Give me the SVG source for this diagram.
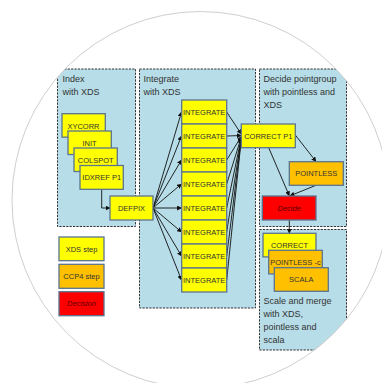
<svg xmlns="http://www.w3.org/2000/svg" width="382" height="383" viewBox="0 0 382 383">
<style>
.panel{fill:#b7dde8;stroke:#333;stroke-width:1;stroke-dasharray:2.2,1.2}
.title{font-family:"Liberation Sans",Arial,sans-serif;font-size:9px;fill:#333}
.box{stroke:#5b7490;stroke-width:1.3}
.xds{fill:#ffff00}
.ccp4{fill:#ffc000}
.dec{fill:#ff0000}
.lbl{font-family:"Liberation Sans Narrow","Liberation Sans",Arial,sans-serif;font-size:7.5px;fill:#333;text-anchor:middle;dominant-baseline:central}
.it{font-style:italic;fill:#5a0000}
.conn line,.conn path{stroke:#111;stroke-width:0.9;fill:none;marker-end:url(#ah)}
</style>
<defs>
<clipPath id="circ"><circle cx="200.5" cy="200" r="188.5"/></clipPath>
<marker id="ah" viewBox="0 0 10 10" refX="9" refY="5" markerWidth="5" markerHeight="5" orient="auto" markerUnits="userSpaceOnUse">
<path d="M0,0 L10,5 L0,10 Z" fill="#111"/>
</marker>
</defs>
<rect width="382" height="383" fill="#fff"/>
<g clip-path="url(#circ)">
<g id="panel-index">
<rect class="panel" x="57.5" y="69" width="78" height="157.5"/>
<text class="title" x="62.5" y="81.5">Index</text>
<text class="title" x="62.5" y="94.5">with XDS</text>
</g>
<g id="panel-integrate">
<rect class="panel" x="139.5" y="69" width="116" height="239"/>
<text class="title" x="143.5" y="81.5">Integrate</text>
<text class="title" x="143.5" y="94.5">with XDS</text>
</g>
<g id="panel-decide">
<rect class="panel" x="259.5" y="69" width="87" height="157.5"/>
<text class="title" x="263.5" y="81.5">Decide pointgroup</text>
<text class="title" x="263.5" y="94.5">with pointless and</text>
<text class="title" x="263.5" y="107.5">XDS</text>
</g>
<g id="panel-scale">
<rect class="panel" x="259.5" y="229.5" width="87" height="120.5"/>
<text class="title" x="263.5" y="304">Scale and merge</text>
<text class="title" x="263.5" y="317">with XDS,</text>
<text class="title" x="263.5" y="330">pointless and</text>
<text class="title" x="263.5" y="343">scala</text>
</g>

<g class="conn" id="connectors">
<path d="M101.7,189.3 V208 H110"/>
<line x1="153" y1="208" x2="181.5" y2="112"/>
<line x1="153" y1="208" x2="181.5" y2="136"/>
<line x1="153" y1="208" x2="181.5" y2="160"/>
<line x1="153" y1="208" x2="181.5" y2="184"/>
<line x1="153" y1="208" x2="181.5" y2="208"/>
<line x1="153" y1="208" x2="181.5" y2="232"/>
<line x1="153" y1="208" x2="181.5" y2="256"/>
<line x1="153" y1="208" x2="181.5" y2="280"/>
<line x1="226.7" y1="112" x2="241.3" y2="134"/>
<line x1="226.7" y1="136" x2="241.3" y2="135.5"/>
<line x1="226.7" y1="160" x2="241.3" y2="136.5"/>
<line x1="226.7" y1="184" x2="241.3" y2="137"/>
<line x1="226.7" y1="208" x2="241.3" y2="137.5"/>
<line x1="226.7" y1="232" x2="241.3" y2="138"/>
<line x1="226.7" y1="256" x2="241.3" y2="138.5"/>
<line x1="226.7" y1="280" x2="241.3" y2="139"/>
<line x1="295.3" y1="135" x2="316" y2="161.5"/>
<line x1="268.7" y1="147.7" x2="289.3" y2="195.8"/>
<line x1="316" y1="185.3" x2="290" y2="195.8"/>
<line x1="289.3" y1="220" x2="289.3" y2="233.2"/>
</g>

<g id="node-xycorr"><rect class="box xds" x="62" y="113.7" width="43.3" height="23.5"/><text class="lbl" x="83.5" y="126">XYCORR</text></g>
<g id="node-init"><rect class="box xds" x="68" y="131" width="43.3" height="23.5"/><text class="lbl" x="89.5" y="143">INIT</text></g>
<g id="node-colspot"><rect class="box xds" x="74" y="148" width="43.3" height="23.5"/><text class="lbl" x="95.7" y="160">COLSPOT</text></g>
<g id="node-idxref"><rect class="box xds" x="80" y="165.5" width="43.3" height="23.8"/><text class="lbl" x="101.7" y="177.3">IDXREF P1</text></g>
<g id="node-defpix"><rect class="box xds" x="110" y="196" width="43" height="24"/><text class="lbl" x="131.5" y="208">DEFPIX</text></g>

<g id="node-integrate1"><rect class="box xds" x="181.7" y="100" width="45" height="24"/><text class="lbl" x="204.2" y="112">INTEGRATE</text></g>
<g id="node-integrate2"><rect class="box xds" x="181.7" y="124" width="45" height="24"/><text class="lbl" x="204.2" y="136">INTEGRATE</text></g>
<g id="node-integrate3"><rect class="box xds" x="181.7" y="148" width="45" height="24"/><text class="lbl" x="204.2" y="160">INTEGRATE</text></g>
<g id="node-integrate4"><rect class="box xds" x="181.7" y="172" width="45" height="24"/><text class="lbl" x="204.2" y="184">INTEGRATE</text></g>
<g id="node-integrate5"><rect class="box xds" x="181.7" y="196" width="45" height="24"/><text class="lbl" x="204.2" y="208">INTEGRATE</text></g>
<g id="node-integrate6"><rect class="box xds" x="181.7" y="220" width="45" height="24"/><text class="lbl" x="204.2" y="232">INTEGRATE</text></g>
<g id="node-integrate7"><rect class="box xds" x="181.7" y="244" width="45" height="24"/><text class="lbl" x="204.2" y="256">INTEGRATE</text></g>
<g id="node-integrate8"><rect class="box xds" x="181.7" y="268" width="45" height="24"/><text class="lbl" x="204.2" y="280">INTEGRATE</text></g>

<g id="node-correctp1"><rect class="box xds" x="241.3" y="124" width="54" height="23.7"/><text class="lbl" x="268.3" y="136">CORRECT P1</text></g>
<g id="node-pointless"><rect class="box ccp4" x="289.3" y="161.7" width="54" height="23.6"/><text class="lbl" x="316.3" y="173.5">POINTLESS</text></g>
<g id="node-decide"><rect class="box dec" x="262.3" y="196" width="53.7" height="24"/><text class="lbl it" x="289.2" y="208">Decide</text></g>

<g id="node-correct"><rect class="box xds" x="263" y="233.3" width="53" height="23.6"/><text class="lbl" x="289.5" y="245.7">CORRECT</text></g>
<g id="node-pointless-c"><rect class="box ccp4" x="268.7" y="250.3" width="53.6" height="23.6"/><text class="lbl" x="295.5" y="262.7">POINTLESS -c</text></g>
<g id="node-scala"><rect class="box ccp4" x="274.3" y="267.7" width="54" height="23.6"/><text class="lbl" x="301.3" y="279.7">SCALA</text></g>

<g id="legend-xds"><rect class="box xds" x="59" y="237" width="45" height="23.7"/><text class="lbl" x="81.5" y="249">XDS step</text></g>
<g id="legend-ccp4"><rect class="box ccp4" x="59" y="264.3" width="45" height="24"/><text class="lbl" x="81.5" y="276.3">CCP4 step</text></g>
<g id="legend-decision"><rect class="box dec" x="59" y="291.7" width="45" height="24"/><text class="lbl it" x="81.5" y="303.7">Decision</text></g>
</g>
<circle cx="200.5" cy="200" r="188.5" fill="none" stroke="#cfcfcf" stroke-width="1"/>
</svg>
